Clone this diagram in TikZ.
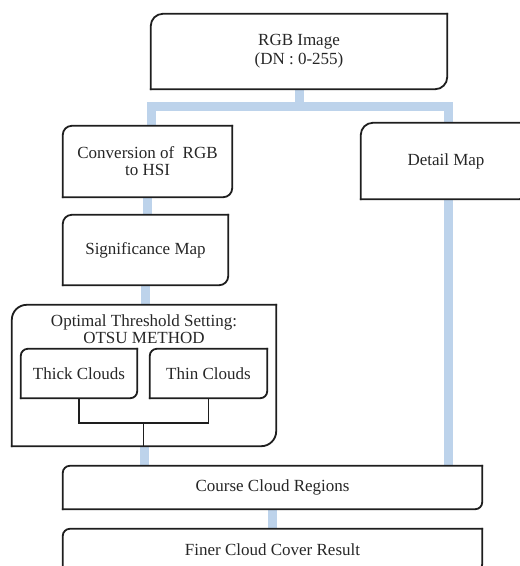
\documentclass[tikz,border=0pt]{standalone}
\usepackage{fontspec}
\setmainfont{Liberation Serif}
\usetikzlibrary{calc}

\definecolor{flowblue}{RGB}{189,211,235}
\definecolor{edge}{RGB}{30,30,30}

\begin{document}
\begin{tikzpicture}[x=1pt,y=-1pt,
  box/.style={inner sep=0pt,align=center,text=black!85,font=\fontsize{17}{17}\selectfont},
  boxline/.style={draw=edge,line width=1.8pt,line cap=rect},
  flow/.style={draw=flowblue,line width=9pt},
  mergeline/.style={draw=edge,line width=1.8pt}]
\useasboundingbox (0,0) rectangle (520,566);
\clip (0,0) rectangle (520,566);

% steps
\node[box,minimum width=296,minimum height=75] (rgb) at (299,51.5) {RGB Image\\[2pt](DN : 0-255)};
\node[box,minimum width=169,minimum height=71] (conv) at (147.5,161.5) {Conversion of~ RGB\\to HSI};
\node[box,minimum width=165,minimum height=70] (sig) at (145.5,250) {Significance Map};
\node[box,minimum width=170,minimum height=76] (detail) at (446,161) {Detail Map};
\node[box,minimum width=264,minimum height=141] (otsu) at (144,375.5) {};
\node[box] (otsutitle) at (144,329.5) {Optimal Threshold Setting:\\OTSU METHOD};
\node[box,minimum width=116,minimum height=49] (thick) at (79,373.5) {Thick Clouds};
\node[box,minimum width=117,minimum height=49] (thin) at (208.5,373.5) {Thin Clouds};
\node[box,minimum width=419,minimum height=43] (course) at (272.5,487.5) {Course Cloud Regions};
\node[box,minimum width=419,minimum height=42] (finer) at (272.5,550) {Finer Cloud Cover Result};

% blue flow lines
\coordinate (split) at (299,106);
\coordinate (lt) at (151,106);
\coordinate (rt) at (448,106);
\draw[flow] (rgb.south) -- (split);
\draw[flow] (lt |- conv.north) -- (lt) -- (rt) -- (rt |- detail.north);
\draw[flow] (conv.south) -- (conv.south |- sig.north);
\draw[flow] (sig.south) -- (sig.south |- otsu.north);
\draw[flow] (otsu.south) -- (otsu.south |- course.north);
\draw[flow] (rt |- detail.south) -- (rt |- course.north);
\draw[flow] (course.south) -- (course.south |- finer.north);

% box outlines, round top left and bottom right
\foreach \n/\r in {rgb/12,conv/9,sig/9,detail/12,otsu/15,thick/7,thin/7,course/7,finer/7} {
  \draw[boxline,rounded corners=\r] (\n.north east) -- (\n.north west) -- (\n.south west);
  \draw[boxline,rounded corners=\r] (\n.south west) -- (\n.south east) -- (\n.north east);
}

% thick and thin merge
\coordinate (merge) at (143.5,423);
\draw[mergeline] (thick.south) |- (merge) -| (thin.south);
\draw[mergeline] (merge) -- (merge |- otsu.south);

\end{tikzpicture}
\end{document}
